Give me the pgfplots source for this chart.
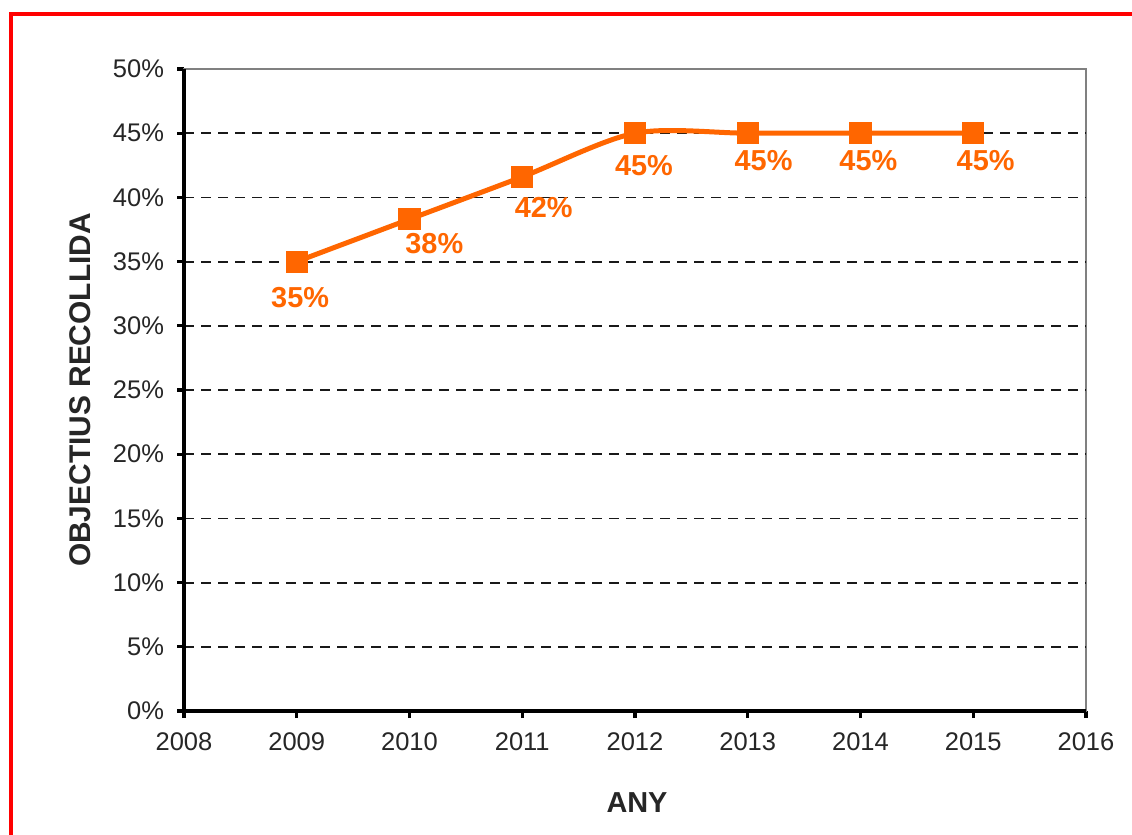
\documentclass[border=0pt]{standalone}
\usepackage{pgfplots}
\pgfplotsset{compat=1.18}
\usepackage{fontspec}
\setmainfont{Liberation Sans}
\definecolor{ornge}{RGB}{255,102,0}
\begin{document}
\begin{tikzpicture}
\path[use as bounding box] (0,0) rectangle (566bp,417.5bp);
\fill[white] (0,0) rectangle (566bp,417.5bp);
\draw[red, line width=1.6bp] (5.5bp,0) -- (5.5bp,410.5bp) -- (566bp,410.5bp);
\begin{axis}[
  at={(92bp,62bp)}, anchor=south west,
  scale only axis, width=451bp, height=321bp,
  xmin=2008, xmax=2016, ymin=0, ymax=50,
  xtick={2008,2009,2010,2011,2012,2013,2014,2015,2016},
  xticklabels={2008,2009,2010,2011,2012,2013,2014,2015,2016},
  ytick={0,5,10,15,20,25,30,35,40,45,50},
  yticklabels={0\%,5\%,10\%,15\%,20\%,25\%,30\%,35\%,40\%,45\%,50\%},
  xtick pos=left, ytick pos=left,
  tick align=outside, major tick length=3.5bp,
  tick style={black, line width=1.6bp},
  ticklabel style={font=\fontsize{12.8}{14}\selectfont, text=black!85},
  xticklabel style={yshift=-4bp},
  yticklabel style={xshift=-3bp},
  axis line style={gray, line width=0.8bp},
  extra y ticks={5,10,15,20,25,30,35,40,45},
  extra y tick labels={},
  extra y tick style={ymajorgrids=true, major tick length=0pt,
    grid style={black!90, line width=0.9bp, dash pattern=on 5bp off 3.5bp}},
  clip=false,
]
\draw[black, line width=2bp] (rel axis cs:0,1) -- (rel axis cs:0,0) -- (rel axis cs:1,0);
\addplot[ornge, line width=2.5bp, smooth, tension=0.5, mark=square*, mark size=5.3bp,
  mark options={solid, fill=ornge, draw=ornge, line width=0pt}]
  coordinates {(2009,35) (2010,38.3) (2011,41.6) (2012,45) (2013,45) (2014,45) (2015,45)};
\begin{scope}[every node/.style={text=ornge, font=\bfseries\fontsize{14.5}{16}\selectfont}]
\node at (axis cs:2009.03,32.2) {35\%};
\node at (axis cs:2010.22,36.4) {38\%};
\node at (axis cs:2011.19,39.2) {42\%};
\node at (axis cs:2012.08,42.45) {45\%};
\node at (axis cs:2013.14,42.9) {45\%};
\node at (axis cs:2014.07,42.9) {45\%};
\node at (axis cs:2015.11,42.9) {45\%};
\end{scope}
\end{axis}
\node[font=\bfseries\fontsize{14.5}{16}\selectfont, text=black!85] at (318.5bp,16bp) {ANY};
\node[font=\bfseries\fontsize{15}{17}\selectfont, text=black!85, rotate=90] at (40bp,222.5bp) {OBJECTIUS RECOLLIDA};
\end{tikzpicture}
\end{document}
